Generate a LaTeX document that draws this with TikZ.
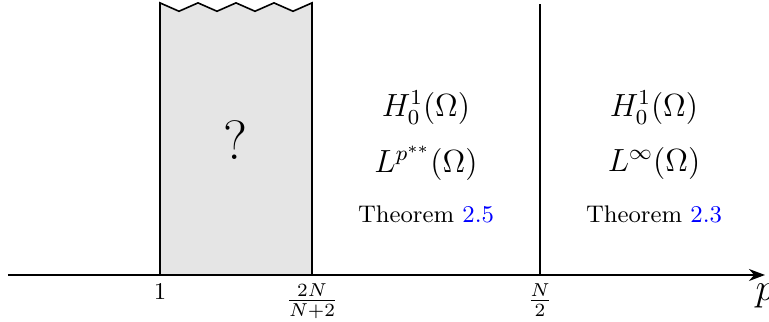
\documentclass[tikz,border=0pt]{standalone}
\usepackage{tikz}
\usetikzlibrary{calc,arrows.meta}
\definecolor{boxgray}{HTML}{E5E5E5}
\definecolor{linkblue}{HTML}{0000FF}
\tikzset{
  regime/.style={align=center, inner sep=1pt},
  ticklabel/.style={below, inner sep=3pt},
}

\begin{document}
\begin{tikzpicture}
\useasboundingbox (-0.105,-0.618) rectangle (10.013,3.618);
% points on the p-axis
\coordinate (origin) at (0,0);
\coordinate (one) at (2,0);
\coordinate (crit) at (4,0);
\coordinate (half) at (7,0);
\coordinate (tip) at (9.96,0);
% unknown region
\draw[fill=boxgray, semithick] (one) -- ++(0,3.58)
  \foreach \i in {1,...,4} { -- ++(0.25,-0.11) -- ++(0.25,0.11) } -- (crit);
\node (unknown) at (3,1.78) {\huge ?};
% threshold N/2
\coordinate (halftop) at (7,3.57);
\draw[semithick] (half) -- (halftop);
% axis
\draw[-{Stealth[length=6pt,width=4.5pt]}, semithick] (origin) -- (tip);
\node[ticklabel] (lone) at (one) {\small $1$};
\node[ticklabel] (lcrit) at (crit) {$\frac{2N}{N+2}$};
\node[ticklabel] (lhalf) at (half) {$\frac{N}{2}$};
\node[below, inner sep=3pt] (lp) at (tip) {\Large $p$};
% regularity results
\node[regime] (hleft) at (5.5,2.2) {\large $H^1_0(\Omega)$};
\node[regime] (lleft) at (5.5,1.47) {\large $L^{p^{**}}(\Omega)$};
\node[regime] (tleft) at (5.5,0.8) {\small Theorem \textcolor{linkblue}{2.5}};
\node[regime] (hright) at (8.5,2.2) {\large $H^1_0(\Omega)$};
\node[regime] (lright) at (8.5,1.47) {\large $L^{\infty}(\Omega)$};
\node[regime] (tright) at (8.5,0.8) {\small Theorem \textcolor{linkblue}{2.3}};
\end{tikzpicture}
\end{document}
